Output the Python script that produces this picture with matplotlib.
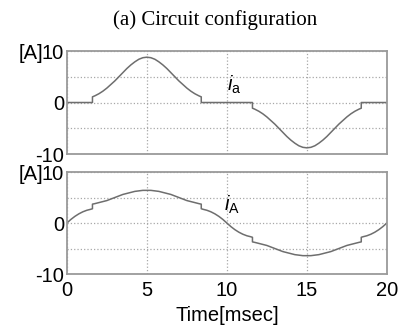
import matplotlib
matplotlib.use("Agg")
import matplotlib.pyplot as plt

# values (time in ms, current in A)
t_ia = [0.0, 1.6, 1.6, 1.75, 2.0, 2.25, 2.5, 2.75, 3.0, 3.25, 3.5, 3.75, 4.0, 4.25,
        4.5, 4.75, 5.0, 5.25, 5.5, 5.75, 6.0, 6.25, 6.5, 6.75, 7.0, 7.25, 7.5, 7.75,
        8.0, 8.25, 8.4, 8.4, 11.6, 11.6, 11.75, 12.0, 12.25, 12.5, 12.75, 13.0, 13.25,
        13.5, 13.75, 14.0, 14.25, 14.5, 14.75, 15.0, 15.25, 15.5, 15.75, 16.0, 16.25,
        16.5, 16.75, 17.0, 17.25, 17.5, 17.75, 18.0, 18.25, 18.4, 18.4, 20.0]
ia = [0.0, 0.0, 1.1, 1.3, 1.7, 2.2, 2.8, 3.5, 4.2, 5.0, 5.8, 6.6, 7.3, 7.9,
      8.4, 8.7, 8.8, 8.7, 8.4, 7.9, 7.3, 6.6, 5.8, 5.0, 4.2, 3.5, 2.8, 2.2,
      1.7, 1.3, 1.1, 0.0, 0.0, -1.1, -1.3, -1.7, -2.2, -2.8, -3.5, -4.2, -5.0,
      -5.8, -6.6, -7.3, -7.9, -8.4, -8.7, -8.8, -8.7, -8.4, -7.9, -7.3, -6.6,
      -5.8, -5.0, -4.2, -3.5, -2.8, -2.2, -1.7, -1.3, -1.1, 0.0, 0.0]

t_iA = [0.0, 0.25, 0.5, 0.75, 1.0, 1.25, 1.5, 1.6, 1.6, 1.75, 2.0, 2.25, 2.5, 2.75,
        3.0, 3.25, 3.5, 3.75, 4.0, 4.25, 4.5, 4.75, 5.0, 5.25, 5.5, 5.75, 6.0, 6.25,
        6.5, 6.75, 7.0, 7.25, 7.5, 7.75, 8.0, 8.25, 8.4, 8.4, 8.5, 8.75, 9.0, 9.25,
        9.5, 9.75, 10.0, 10.25, 10.5, 10.75, 11.0, 11.25, 11.5, 11.6, 11.6, 11.75,
        12.0, 12.25, 12.5, 12.75, 13.0, 13.25, 13.5, 13.75, 14.0, 14.25, 14.5, 14.75,
        15.0, 15.25, 15.5, 15.75, 16.0, 16.25, 16.5, 16.75, 17.0, 17.25, 17.5, 17.75,
        18.0, 18.25, 18.4, 18.4, 18.5, 18.75, 19.0, 19.25, 19.5, 19.75, 20.0]
iA = [0.0, 0.7, 1.3, 1.8, 2.2, 2.5, 2.7, 2.8, 3.7, 3.8, 4.0, 4.2, 4.4, 4.7,
      5.0, 5.3, 5.6, 5.8, 6.0, 6.2, 6.3, 6.4, 6.4, 6.4, 6.3, 6.2, 6.0, 5.8,
      5.6, 5.3, 5.0, 4.7, 4.4, 4.2, 4.0, 3.8, 3.7, 2.8, 2.7, 2.5, 2.2, 1.8,
      1.3, 0.7, 0.0, -0.7, -1.3, -1.8, -2.2, -2.5, -2.7, -2.8, -3.7, -3.8,
      -4.0, -4.2, -4.4, -4.7, -5.0, -5.3, -5.6, -5.8, -6.0, -6.2, -6.3, -6.4,
      -6.4, -6.4, -6.3, -6.2, -6.0, -5.8, -5.6, -5.3, -5.0, -4.7, -4.4, -4.2,
      -4.0, -3.8, -3.7, -2.8, -2.7, -2.5, -2.2, -1.8, -1.3, -0.7, 0.0]

xticks = [0, 5, 10, 15, 20]
yticks = [-10, -5, 0, 5, 10]
ytick_labels = ['-10', '', '0', '', '10']

plt.rcParams['font.family'] = ['Liberation Sans', 'DejaVu Sans']
plt.rcParams['mathtext.fontset'] = 'custom'
plt.rcParams['mathtext.it'] = 'Liberation Sans:italic'
plt.rcParams['mathtext.rm'] = 'Liberation Sans'

fig = plt.figure(figsize=(3.98, 3.27), dpi=100)
ax1 = fig.add_axes([0.168, 0.529, 0.804, 0.315])
ax2 = fig.add_axes([0.168, 0.162, 0.804, 0.312])

fs = 14.5
line_col = '#6e6e6e'
for ax, t, y, lab, lx, ly in [(ax1, t_ia, ia, r'$i_{\rm a}$', 10.0, 1.2),
                              (ax2, t_iA, iA, r'$i_{\rm A}$', 9.8, 1.4)]:
    ax.plot(t, y, color=line_col, lw=1.1)
    ax.set_xlim(0, 20)
    ax.set_ylim(-10, 10)
    ax.set_xticks(xticks)
    ax.set_yticks(yticks)
    ax.set_yticklabels(ytick_labels)
    ax.tick_params(length=0, labelsize=fs, pad=2)
    ax.tick_params(axis='x', pad=5)
    ax.grid(True, color='#a8a8a8', ls=':', lw=0.9)
    for s in ax.spines.values():
        s.set_color('#9a9a9a')
        s.set_linewidth(1.3)
    ax.text(lx, ly, lab, fontsize=fs, ha='left', va='bottom')
    ax.text(-0.074, 1.0, '[A]', transform=ax.transAxes, fontsize=fs,
            ha='right', va='center_baseline')

ax1.set_xticklabels([])
ax2.set_xlabel('Time[msec]', fontsize=fs, labelpad=4)

fig.text(0.54, 0.94, '(a) Circuit configuration', family='Liberation Serif',
         fontsize=15, ha='center', va='center')

fig.savefig('out.png', dpi=100)
